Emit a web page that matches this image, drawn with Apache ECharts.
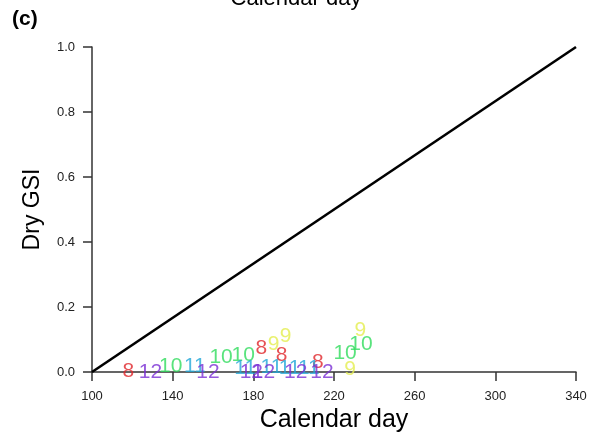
<!DOCTYPE html>
<html>
<head>
<meta charset="utf-8">
<script src="https://cdn.jsdelivr.net/npm/echarts@6/dist/echarts.min.js"></script>
<style>
html,body{margin:0;padding:0;background:#fff;}
#chart{width:591px;height:434px;}
</style>
</head>
<body>
<div id="chart"></div>
<script>
// tick labels
var xTicks = [100, 140, 180, 220, 260, 300, 340];
var yTicks = [0, 0.2, 0.4, 0.6, 0.8, 1.0];
// 1:1 reference line
var refLine = [[100, 0], [340, 1]];
// labelled points: [calendar day, dry GSI]
var pts8 = [[118, 0.003], [184, 0.074], [194, 0.052], [212, 0.031]];
var pts9 = [[190, 0.086], [196, 0.111], [233, 0.129], [228, 0.009]];
var pts10 = [[139, 0.018], [164, 0.046], [175, 0.052], [225.5, 0.058], [233.4, 0.086]];
var pts11 = [[151, 0.018], [176, 0.012], [189, 0.015], [198, 0.012], [207.5, 0.012]];
var pts12 = [[129, 0], [157.5, 0], [179, 0], [185, 0], [201, 0], [214, 0]];

var groups = [
  {name: '8', data: pts8, color: '#e0262b'},
  {name: '9', data: pts9, color: '#e4ee4e'},
  {name: '10', data: pts10, color: '#2fdc5c'},
  {name: '11', data: pts11, color: '#22a8d8'},
  {name: '12', data: pts12, color: '#7a2fd4'}
];

var series = [{
  type: 'line', data: refLine, symbol: 'none', silent: true,
  lineStyle: {color: '#000', width: 2.6}, z: 1
}];
groups.forEach(function (g) {
  series.push({
    type: 'scatter', name: g.name, data: g.data,
    symbol: 'circle', symbolSize: 1,
    itemStyle: {color: 'rgba(0,0,0,0)'},
    label: {
      show: true, position: 'inside', formatter: g.name,
      color: g.color, fontSize: 21, fontFamily: 'Liberation Sans'
    },
    z: 3
  });
});

var chart = echarts.init(document.getElementById('chart'), null, {renderer: 'canvas'});
chart.setOption({
  animation: false,
  backgroundColor: '#fff',
  grid: {left: 92, right: 15, top: 47, bottom: 62, containLabel: false, outerBoundsMode: 'none'},
  xAxis: {
    type: 'value', min: 100, max: 340,
    name: 'Calendar day', nameLocation: 'middle', nameGap: 32,
    nameTextStyle: {fontSize: 25, color: '#000', fontFamily: 'Liberation Sans'},
    axisLine: {show: true, lineStyle: {color: '#333', width: 1.5}},
    axisTick: {show: true, length: 9, customValues: xTicks, lineStyle: {color: '#333', width: 1.5}},
    axisLabel: {customValues: xTicks, fontSize: 13, color: '#222', margin: 18, fontFamily: 'Liberation Sans'},
    splitLine: {show: false}
  },
  yAxis: {
    type: 'value', min: 0, max: 1, interval: 0.2,
    name: 'Dry GSI', nameLocation: 'middle', nameGap: 48, nameRotate: 90,
    nameTextStyle: {fontSize: 23, color: '#000', fontFamily: 'Liberation Sans'},
    axisLine: {show: true, lineStyle: {color: '#333', width: 1.5}},
    axisTick: {show: true, length: 9, lineStyle: {color: '#333', width: 1.5}},
    axisLabel: {fontSize: 13, color: '#222', margin: 17, fontFamily: 'Liberation Sans',
      formatter: function (v) { return v.toFixed(1); }},
    splitLine: {show: false}
  },
  graphic: [
    {type: 'text', left: 12, top: 9, style: {text: '(c)', fontSize: 21, fontWeight: 'bold', fill: '#000', fontFamily: 'Liberation Sans'}},
    {type: 'text', x: 296, y: -12, style: {text: 'Calendar day', fontSize: 22, fill: '#000', align: 'center', fontFamily: 'Liberation Sans'}}
  ],
  series: series
});
</script>
</body>
</html>
